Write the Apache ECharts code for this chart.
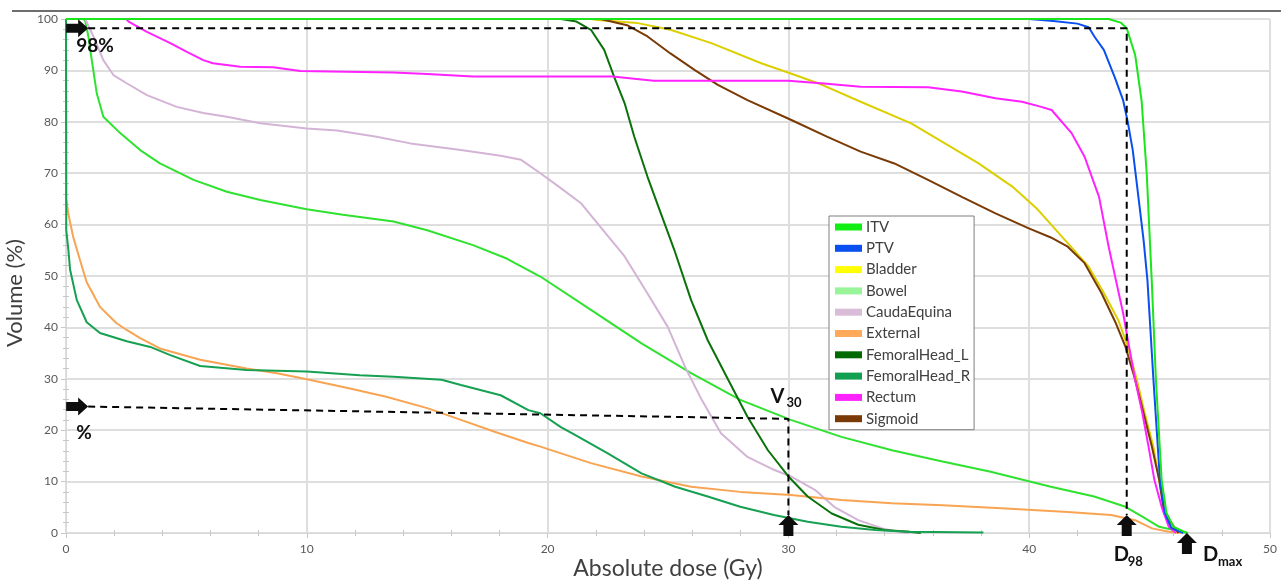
<!DOCTYPE html>
<html>
<head>
<meta charset="utf-8">
<script src="https://cdn.jsdelivr.net/npm/echarts@6/dist/echarts.min.js"></script>
<style>
html,body{margin:0;padding:0;background:#fff;}
#chart{width:1281px;height:580px;}
</style>
</head>
<body>
<div id="chart"></div>
<script>
// ---------- data (dose in Gy, volume in %) ----------
const seriesNames = ['ITV','PTV','Bladder','Bowel','CaudaEquina','External','FemoralHead_L','FemoralHead_R','Rectum','Sigmoid'];

const itv = [[0,100],[43.3,100],[43.8,99.3],[44.05,98.2],[44.4,93],[44.67,84],[44.88,70],[45.09,49],[45.26,30],[45.5,10.3],[45.7,3.9],[46.0,1.2],[46.55,0]];
const ptv = [[0,100],[40,100],[41,99.6],[42,99.1],[42.47,98.4],[42.72,96.5],[43.1,94],[43.55,88.7],[43.9,84.2],[44.1,79.8],[44.3,74.5],[44.55,64.8],[44.75,57],[44.91,49.2],[45.16,29.8],[45.43,10.3],[45.63,3.9],[45.9,1.0],[46.4,0]];
const bladder = [[0,100],[21.8,100],[22.07,99.8],[23.74,99.2],[25.1,97.9],[26.8,95.3],[28.87,91.4],[30.1,89.4],[31.4,87.2],[33.0,83.9],[35.1,79.7],[36.5,75.8],[37.9,71.9],[39.3,67.4],[40.3,63.2],[41.6,56.4],[42.47,51.8],[43.1,46.7],[43.7,41.4],[44.1,36.2],[44.47,29.8],[44.8,23.3],[45.16,16.7],[45.4,10.3],[45.6,5.1],[45.9,1.2],[46.3,0]];
const bowel = [[0,100],[0.7,100],[0.79,99.8],[0.93,96.6],[1.07,92],[1.28,85.5],[1.55,81],[2.25,77.8],[3.08,74.5],[3.9,71.9],[5.3,68.7],[6.68,66.4],[8.07,64.8],[10.0,63.0],[11.5,61.9],[13.6,60.6],[15.0,58.9],[16.9,56.0],[18.3,53.4],[19.7,49.9],[21.8,43.4],[23.9,36.9],[25.96,31.1],[28.0,25.9],[30.1,22.0],[32.2,18.7],[34.3,16.1],[36.4,13.9],[38.4,11.9],[40.9,9.0],[42.7,7.1],[44.0,5.1],[44.7,3.2],[45.4,1.2],[46.3,0.25],[46.6,0]];
const caudaEquina = [[0,100],[0.8,100],[0.86,99.8],[1.14,96.6],[1.55,92],[1.97,89.1],[2.52,87.5],[3.36,85.2],[4.6,82.9],[5.7,81.7],[6.68,81.0],[8.07,79.7],[10.0,78.7],[11.26,78.3],[12.9,77.1],[14.3,75.8],[16.4,74.5],[18.05,73.4],[18.9,72.6],[19.7,70.0],[20.55,67.1],[21.4,64.1],[22.2,59.5],[23.2,53.8],[24.15,46.6],[24.99,40.1],[25.7,32.4],[26.4,25.9],[27.2,19.4],[28.3,14.8],[29.4,12.3],[30.1,11.0],[31.1,8.4],[31.9,5.1],[32.9,2.5],[33.9,0.9],[34.6,0.2],[35,0]];
const external = [[0,100],[0.01,65],[0.1,62],[0.3,57.6],[0.58,53.1],[0.86,48.8],[1.41,44.0],[2.1,40.8],[2.52,39.5],[3.08,37.9],[3.9,35.9],[5.57,33.7],[7.5,32.0],[8.76,31.1],[10.0,29.9],[11.7,28.2],[13.3,26.5],[15.0,24.3],[16.4,22.0],[17.8,19.7],[19.2,17.5],[19.7,16.8],[21.8,13.6],[23.9,11.0],[25.96,9.0],[28.0,8.0],[30.1,7.4],[32.2,6.4],[34.3,5.8],[36.4,5.4],[38.85,4.8],[41.6,4.1],[43.4,3.5],[44.4,2.5],[45.1,0.9],[45.8,0.25],[46.3,0]];
const femoralHeadL = [[0,100],[20.55,100],[21.2,99.5],[21.8,97.9],[22.35,94],[22.76,88.8],[23.2,83.6],[23.6,77.1],[24.15,69.3],[24.6,63.5],[25.26,55.1],[25.96,45.3],[26.65,37.5],[27.5,29.8],[28.3,22.6],[29.15,16.1],[30.0,11.0],[30.8,7.1],[31.8,3.8],[32.9,1.6],[34.0,0.6],[35.0,0.25],[35.5,0]];
const femoralHeadR = [[0,100],[0.01,59],[0.1,55],[0.17,51.2],[0.45,45.3],[0.86,41],[1.41,38.9],[2.52,37.3],[3.5,36.2],[4.33,34.6],[5.57,32.5],[7.5,31.7],[10.0,31.4],[12.2,30.7],[13.6,30.4],[15.6,29.8],[16.4,28.8],[18.05,26.8],[19.2,23.9],[19.7,23.3],[20.55,20.6],[21.1,19.2],[22.5,15.5],[23.9,11.6],[25.3,9.0],[26.65,7.1],[28.0,5.1],[29.4,3.5],[30.8,2.2],[32.2,1.2],[33.6,0.6],[35.0,0.25],[38.1,0.1]];
const rectum = [[0,100],[2.5,100],[2.6,99.5],[3.36,97.5],[4.33,95.3],[5.02,93.6],[5.7,92],[6.1,91.4],[7.24,90.7],[8.6,90.6],[9.73,89.9],[13.6,89.6],[15.0,89.3],[16.9,88.8],[22.7,88.8],[24.4,88.0],[30.0,88.0],[31.6,87.4],[33.0,86.8],[35.8,86.7],[37.2,85.9],[38.6,84.6],[39.7,83.9],[40.5,82.9],[40.93,82.3],[41.76,77.8],[42.3,73.2],[42.9,65.4],[43.3,55.7],[43.6,49.2],[43.9,42.8],[44.15,36.2],[44.4,29.8],[44.7,23.3],[44.96,16.7],[45.2,10.3],[45.5,5.1],[45.8,1.2],[46.1,0]];
const sigmoid = [[0,100],[22.2,100],[23.3,98.8],[24.15,96.6],[25.1,93.3],[26.1,90.1],[27.07,87.2],[28.3,84.2],[30.1,80.4],[31.6,77.1],[33.0,74.2],[34.4,71.9],[35.8,68.7],[37.2,65.4],[38.6,62.2],[39.96,59.3],[40.9,57.5],[41.6,55.7],[42.3,52.5],[43.0,46.7],[43.6,40.8],[44.0,36.2],[44.4,29.8],[44.75,23.3],[45.1,16.7],[45.4,10.3],[45.6,3.9],[46.2,0]];

// annotation guides (dose, volume)
const guideD98 = [[0.92,98.2],[44.05,98.2],[44.05,3.5]];
const guideV30 = [[0.92,24.6],[30,22.2],[30,3.5]];

// ---------- styles ----------
const seriesData = [itv, ptv, bladder, bowel, caudaEquina, external, femoralHeadL, femoralHeadR, rectum, sigmoid];
const legendColors = ['#11ee11','#0a50f0','#ffff00','#99f599','#d8bcd8','#ffaa5a','#006a00','#10a050','#ff22ff','#7a3a05'];
const lineColors   = ['#1be51b','#0a50f0','#dccf00','#2fe22f','#d4b4d6','#f8a452','#0b720b','#16a052','#ff22ff','#7a3a05'];
const zOrder = [5,4,2,2,2,2,2,2,3,2];

const chart = echarts.init(document.getElementById('chart'), null, {renderer:'canvas'});
const FONT = 'Lato';

const series = seriesNames.map((n,i)=>({
  name:n, type:'line', data:seriesData[i], showSymbol:false, symbol:'none',
  xAxisIndex:0, yAxisIndex:0, z:zOrder[i],
  itemStyle:{color:legendColors[i]},
  lineStyle:{color:lineColors[i], width:2},
  emphasis:{disabled:true}, silent:true
}));
[guideD98, guideV30].forEach((g,k)=>series.push({
  name:'guide'+k, type:'line', data:g, showSymbol:false, symbol:'none', z:6,
  xAxisIndex:0, yAxisIndex:0,
  lineStyle:{color:'#000', width:2, type:[7,5]}, itemStyle:{color:'#000'},
  emphasis:{disabled:true}, silent:true
}));

const gridLine = {show:true, lineStyle:{color:'#dedede', width:2}};
const minor = {show:true, splitNumber:5, length:3, lineStyle:{color:'#c8c8c8', width:1}};

const option = {
  animation:false,
  backgroundColor:'#fff',
  grid:{left:66, right:11, top:19, bottom:47, containLabel:false, outerBoundsMode:'none'},
  legend:{
    data:seriesNames, orient:'vertical', left:829, top:216,
    icon:'rect', itemWidth:27, itemHeight:7, itemGap:5.3,
    padding:[3,4,3,6], borderColor:'#7f7f7f', borderWidth:1, backgroundColor:'#fff',
    selectedMode:false,
    textStyle:{fontFamily:FONT, fontSize:15, color:'#404040', lineHeight:16, padding:[0,0,0,-1]}
  },
  xAxis:[
    {type:'value', min:0, max:50, interval:10, position:'bottom',
     name:'Absolute dose (Gy)', nameLocation:'middle', nameGap:24, nameMoveOverlap:false,
     nameTextStyle:{fontFamily:FONT, fontSize:23, color:'#404040'},
     axisLine:{show:true, lineStyle:{color:'#c8c8c8', width:1}},
     axisTick:{show:true, length:5, lineStyle:{color:'#c8c8c8'}},
     axisLabel:{fontFamily:FONT, fontSize:12, color:'#595959', margin:10},
     splitLine:gridLine},
    {type:'value', min:0, max:50, interval:10, position:'top',
     axisLine:{show:true, lineStyle:{color:'#d9d9d9', width:1}},
     axisTick:{show:false, inside:true}, minorTick:minor,
     axisLabel:{show:false}, splitLine:{show:false}},
    {type:'value', min:0, max:50, interval:10, position:'bottom',
     axisLine:{show:false}, axisTick:{show:false, inside:true}, minorTick:minor,
     axisLabel:{show:false}, splitLine:{show:false}}
  ],
  yAxis:[
    {type:'value', min:0, max:100, interval:10, position:'left',
     name:'Volume (%)', nameLocation:'middle', nameGap:33, nameRotate:90,
     nameTextStyle:{fontFamily:FONT, fontSize:22, color:'#404040', padding:[0,34,0,0]},
     axisLine:{show:true, lineStyle:{color:'#c8c8c8', width:1}},
     axisTick:{show:true, length:5, lineStyle:{color:'#c8c8c8'}},
     axisLabel:{fontFamily:FONT, fontSize:12, color:'#595959', margin:8},
     splitLine:gridLine},
    {type:'value', min:0, max:100, interval:10, position:'right',
     axisLine:{show:true, lineStyle:{color:'#d9d9d9', width:1}},
     axisTick:{show:false, inside:true}, minorTick:minor,
     axisLabel:{show:false}, splitLine:{show:false}},
    {type:'value', min:0, max:100, interval:10, position:'left',
     axisLine:{show:false}, axisTick:{show:false, inside:true}, minorTick:minor,
     axisLabel:{show:false}, splitLine:{show:false}}
  ],
  series:series
};
chart.setOption(option);

// ---------- annotation graphics, positioned through the axes ----------
function px(p){ return chart.convertToPixel({xAxisIndex:0, yAxisIndex:0}, p); }
function rightArrow(t){ const [x,y]=t; return {type:'polygon', z:100, shape:{points:[[x,y],[x-10,y-9],[x-10,y-4.5],[x-22,y-4.5],[x-22,y+4.5],[x-10,y+4.5],[x-10,y+9]]}, style:{fill:'#0d0d0d'}}; }
function upArrow(t){ const [x,y]=t; return {type:'polygon', z:100, shape:{points:[[x,y],[x+10,y+10],[x+5,y+10],[x+5,y+21],[x-5,y+21],[x-5,y+10],[x-10,y+10]]}, style:{fill:'#0d0d0d'}}; }
function txt(s, p, dx, dy, size){ return {type:'text', z:100, x:p[0]+dx, y:p[1]+dy, style:{text:s, fontFamily:FONT, fontWeight:'bold', fontSize:size, fill:'#111', textAlign:'left', textVerticalAlign:'middle'}}; }

const a98 = px(guideD98[0]);
const aV = px(guideV30[0]);
const corner30 = px(guideV30[1]);
const tipV30 = px(guideV30[2]);
const tipD98 = px(guideD98[2]);
const baseD98 = px([guideD98[2][0], 0]);
const tipDmax = px([46.55, 0]);

chart.setOption({graphic:[
  {type:'line', z:100, shape:{x1:12, y1:11, x2:1281, y2:11}, style:{stroke:'#6e6e6e', lineWidth:2}},
  rightArrow(a98), rightArrow(aV),
  upArrow(tipV30), upArrow(tipD98), upArrow(tipDmax),
  txt('98%', a98, -12, 18, 19),
  txt('%', aV, -12, 26, 19),
  txt('V', corner30, -18, -22, 20),
  txt('30', corner30, -2, -16.5, 13),
  txt('D', baseD98, -13, 22, 20),
  txt('98', baseD98, 1, 28.5, 13),
  txt('D', tipDmax, 16, 22, 20),
  txt('max', tipDmax, 31, 28.5, 13)
]});
</script>
</body>
</html>
